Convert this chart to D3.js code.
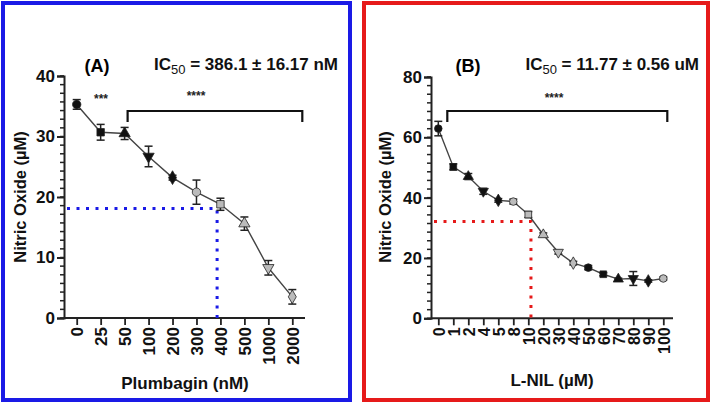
<!DOCTYPE html>
<html><head><meta charset="utf-8">
<script src="https://cdn.jsdelivr.net/npm/d3@7"></script>
<style>body{margin:0;background:#fff}svg{display:block}</style>
</head><body>
<svg id="c" width="713" height="405"></svg>
<script>
// Panel A data
const catsA = ["0","25","50","100","200","300","400","500","1000","2000"];
const valsA = [35.3, 30.7, 30.5, 26.7, 23.2, 20.8, 18.8, 15.6, 8.3, 3.5];
const errA  = [0.8, 1.3, 1.0, 1.7, 0.4, 2.0, 1.0, 1.1, 1.2, 1.2];
const yTicksA = [0, 10, 20, 30, 40];
const ic50A = 386.1, halfA = 18.1;
// Panel B data
const catsB = ["0","1","2","4","5","8","10","20","30","40","50","60","70","80","90","100"];
const valsB = [62.9, 50.2, 47.0, 42.1, 39.1, 38.7, 34.4, 27.7, 21.9, 18.3, 16.8, 14.6, 13.0, 13.2, 12.4, 13.2];
const errB  = [2.4, 1.0, 1.0, 1.0, 0.6, 0.8, 1.0, 0.6, 0.6, 0.6, 0.7, 0.5, 0.3, 2.3, 0.4, 0.5];
const yTicksB = [0, 20, 40, 60, 80];
const ic50B = 11.77, halfB = 32.1;

const svg = d3.select("#c");
const FONT = "Arial, 'Liberation Sans', sans-serif";

// panel borders
svg.append("rect").attr("x",3).attr("y",3).attr("width",347).attr("height",397)
  .attr("fill","none").attr("stroke","#1a1ae6").attr("stroke-width",4);
svg.append("rect").attr("x",364).attr("y",3).attr("width",344).attr("height",397)
  .attr("fill","none").attr("stroke","#e61a1a").attr("stroke-width",4);

const shapes = [
  {t:d3.symbolCircle, f:"#111", r:0},
  {t:d3.symbolSquare, f:"#111", r:0},
  {t:d3.symbolTriangle, f:"#111", r:0},
  {t:d3.symbolTriangle, f:"#111", r:180},
  {t:d3.symbolDiamond, f:"#111", r:0},
  {t:d3.symbolCircle, f:"#bbb", r:0},
  {t:d3.symbolSquare, f:"#bbb", r:0},
  {t:d3.symbolTriangle, f:"#bbb", r:0},
  {t:d3.symbolTriangle, f:"#bbb", r:180},
  {t:d3.symbolDiamond, f:"#bbb", r:0}
];

function panel(o){
  const g = svg.append("g");
  const x = d3.scalePoint().domain(o.cats).range(o.xr);
  const y = d3.scaleLinear().domain([0, o.ymax]).range(o.yr);
  const x0 = o.axisX, y0 = o.yr[0];
  // y axis minor ticks
  const minor = d3.range(0, o.ymax + 1e-6, o.minorStep);
  g.selectAll(".mn").data(minor).join("line")
    .attr("x1", x0-4).attr("x2", x0).attr("y1", d=>y(d)).attr("y2", d=>y(d))
    .attr("stroke","#222").attr("stroke-width",1.5);
  const ya = d3.axisLeft(y).tickValues(o.yTicks).tickSize(7).tickPadding(2);
  const yg = g.append("g").attr("transform",`translate(${x0},0)`).call(ya);
  yg.select(".domain").attr("stroke","#222").attr("stroke-width",2);
  yg.selectAll(".tick line").attr("stroke","#222").attr("stroke-width",2);
  yg.selectAll("text").attr("font-family",FONT).attr("font-weight","bold").attr("font-size",17).attr("fill","#111");
  // x axis
  g.append("line").attr("x1",x0).attr("x2",o.axisXEnd).attr("y1",y0).attr("y2",y0)
    .attr("stroke","#222").attr("stroke-width",2);
  const xa = d3.axisBottom(x).tickSize(7).tickPadding(3);
  const xg = g.append("g").attr("transform",`translate(0,${y0})`).call(xa);
  xg.select(".domain").remove();
  xg.selectAll(".tick line").attr("stroke","#222").attr("stroke-width",1.8);
  xg.selectAll("text").attr("font-family",FONT).attr("font-weight","bold").attr("font-size",o.xfs).attr("fill","#111")
    .attr("transform","rotate(-90)").attr("text-anchor","end")
    .attr("x",-9).attr("y",0).attr("dy","0.36em");
  // IC50 dotted guides
  const i = o.cats.findIndex(c => +c > o.ic50);
  const xa0 = x(o.cats[i-1]), xa1 = x(o.cats[i]);
  const fr = (o.ic50 - (+o.cats[i-1])) / ((+o.cats[i]) - (+o.cats[i-1]));
  const xd = xa0 + fr*(xa1 - xa0);
  g.append("path").attr("d",`M${x0+3},${y(o.half)}H${xd}V${y0}`)
    .attr("fill","none").attr("stroke",o.dotColor).attr("stroke-width",3)
    .attr("stroke-dasharray","3,6.5");
  // line
  const pts = o.cats.map((c,k)=>({c, v:o.vals[k], e:o.errs[k], k}));
  g.append("path").datum(pts)
    .attr("d", d3.line().x(d=>x(d.c)).y(d=>y(d.v)))
    .attr("fill","none").attr("stroke","#444").attr("stroke-width",1.4);
  // error bars
  const eb = g.selectAll(".eb").data(pts).join("g");
  eb.append("line").attr("x1",d=>x(d.c)).attr("x2",d=>x(d.c))
    .attr("y1",d=>y(d.v-d.e)).attr("y2",d=>y(d.v+d.e)).attr("stroke","#222").attr("stroke-width",1.5);
  [-1,1].forEach(s=>{
    eb.append("line").attr("x1",d=>x(d.c)-4).attr("x2",d=>x(d.c)+4)
      .attr("y1",d=>y(d.v+s*d.e)).attr("y2",d=>y(d.v+s*d.e)).attr("stroke","#222").attr("stroke-width",1.5);
  });
  // markers
  g.selectAll(".mk").data(pts).join("path")
    .attr("d", d=>d3.symbol(shapes[d.k % 10].t, o.msize)())
    .attr("transform", d=>`translate(${x(d.c)},${y(d.v)}) rotate(${shapes[d.k%10].r})`)
    .attr("fill", d=>shapes[d.k%10].f).attr("stroke","#222").attr("stroke-width",0.8);
  // brackets
  o.brackets.forEach(b=>{
    const bx1 = x(b.from) + b.off1, bx2 = x(b.to) + b.off2;
    g.append("path").attr("d",`M${bx1},122V111H${bx2}V122`)
      .attr("fill","none").attr("stroke","#111").attr("stroke-width",2.2);
  });
  o.stars.forEach(s=>{
    g.append("text").attr("x", s.x).attr("y", s.y).attr("text-anchor","middle")
      .attr("font-family",FONT).attr("font-weight","bold").attr("font-size",12).attr("fill","#222").text(s.t);
  });
  // titles
  g.append("text").attr("x",o.tx).attr("y",72).attr("text-anchor","middle")
    .attr("font-family",FONT).attr("font-weight","bold").attr("font-size",18).text(o.letter);
  const ic = g.append("text").attr("x",o.icx).attr("y",70).attr("text-anchor","end")
    .attr("font-family",FONT).attr("font-weight","bold").attr("font-size",17).attr("fill","#111");
  ic.append("tspan").text("IC");
  ic.append("tspan").attr("font-size",13).attr("font-weight","normal").attr("dy",4).text("50");
  ic.append("tspan").attr("dy",-4).text(" = " + o.icText);
  // axis labels
  g.append("text").attr("transform",`translate(${o.ylx},197) rotate(-90)`).attr("text-anchor","middle")
    .attr("font-family",FONT).attr("font-weight","bold").attr("font-size",16.5).attr("fill","#111")
    .text("Nitric Oxide (\u00b5M)");
  g.append("text").attr("x",o.xlx).attr("y",o.xly).attr("text-anchor","middle")
    .attr("font-family",FONT).attr("font-weight","bold").attr("font-size",17).attr("fill","#111")
    .text(o.xlabel);
}

panel({cats:catsA, vals:valsA, errs:errA, yTicks:yTicksA, ymax:40, minorStep:10/7,
  xr:[76.7,292.3], yr:[318,76], axisX:64, axisXEnd:305, xfs:17, msize:55,
  ic50:ic50A, half:halfA, dotColor:"#1a1ae6",
  brackets:[{from:"50", to:"2000", off1:3, off2:10}],
  stars:[{x:101,y:103,t:"***"},{x:196,y:100,t:"****"}],
  tx:97, icx:338, letter:"(A)", icText:"386.1 \u00b1 16.17 nM",
  ylx:26, xlx:185, xly:389, xlabel:"Plumbagin (nM)"});

panel({cats:catsB, vals:valsB, errs:errB, yTicks:yTicksB, ymax:80, minorStep:20/7,
  xr:[438.3,663.3], yr:[318.3,77], axisX:431, axisXEnd:673, xfs:16, msize:45,
  ic50:ic50B, half:halfB, dotColor:"#e61a1a",
  brackets:[{from:"1", to:"100", off1:-6, off2:4}],
  stars:[{x:554,y:102,t:"****"}],
  tx:468, icx:699, letter:"(B)", icText:"11.77 \u00b1 0.56 uM",
  ylx:391, xlx:552, xly:386, xlabel:"L-NIL (\u00b5M)"});
</script>
</body></html>
